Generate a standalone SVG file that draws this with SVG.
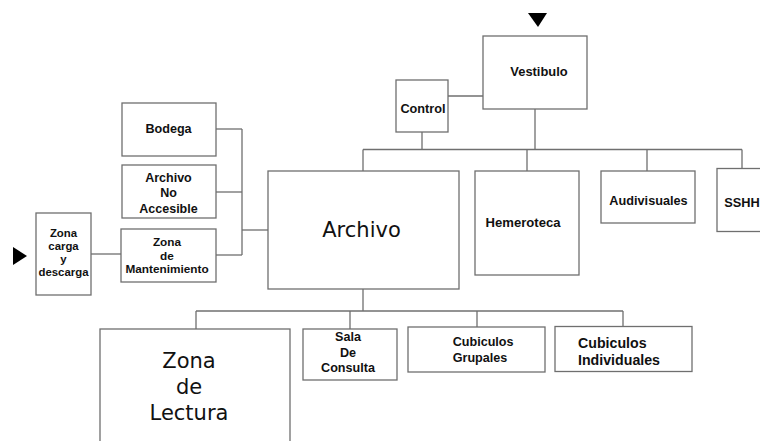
<svg xmlns="http://www.w3.org/2000/svg" width="760" height="441" viewBox="0 0 760 441">
<style>
.box{fill:#fff;stroke:#6f6f6f;stroke-width:1.3}
.ln{fill:none;stroke:#6f6f6f;stroke-width:1.3}
.t{font-family:"Liberation Sans",Arial,sans-serif;font-weight:bold;fill:#111;text-anchor:middle}
.big{font-family:"DejaVu Sans",Verdana,sans-serif;font-size:21px;fill:#111;text-anchor:middle}
.arr{fill:#000}
</style>
<rect width="760" height="441" fill="#fff"/>
<g id="connectors">
<polyline class="ln" points="216,129 242,129"/>
<polyline class="ln" points="216,192 242,192"/>
<polyline class="ln" points="216,255 242,255"/>
<polyline class="ln" points="242,129 242,255"/>
<polyline class="ln" points="242,230 268,230"/>
<polyline class="ln" points="91,254 121,254"/>
<polyline class="ln" points="363,149.5 742,149.5"/>
<polyline class="ln" points="363,149.5 363,171"/>
<polyline class="ln" points="422,132 422,149.5"/>
<polyline class="ln" points="535,109 535,149.5"/>
<polyline class="ln" points="527,149.5 527,171"/>
<polyline class="ln" points="647,149.5 647,171"/>
<polyline class="ln" points="742,149.5 742,169"/>
<polyline class="ln" points="448,96 483,96"/>
<polyline class="ln" points="363,289 363,311"/>
<polyline class="ln" points="196,311 623,311"/>
<polyline class="ln" points="196,311 196,329"/>
<polyline class="ln" points="350,311 350,329"/>
<polyline class="ln" points="477,311 477,327"/>
<polyline class="ln" points="623,311 623,327"/>
<polygon class="arr" points="528,13 547,13 538,27"/>
<polygon class="arr" points="13,247 13,265 27,256"/>
</g>
<g id="vestibulo">
<rect class="box" x="483" y="36" width="104" height="73"/>
<text class="t" x="539" y="76" font-size="12.9">Vestibulo</text>
</g>
<g id="control">
<rect class="box" x="396" y="80" width="52" height="52"/>
<text class="t" x="423" y="112.5" font-size="12.7">Control</text>
</g>
<g id="bodega">
<rect class="box" x="122" y="103" width="94" height="53"/>
<text class="t" x="168.5" y="132.5" font-size="12.6">Bodega</text>
</g>
<g id="archivo-no-accesible">
<rect class="box" x="122" y="165" width="94" height="53"/>
<text class="t" x="168.5" y="182" font-size="12.5">Archivo</text>
<text class="t" x="168.5" y="197.3" font-size="12.5">No</text>
<text class="t" x="168.5" y="212.6" font-size="12.5">Accesible</text>
</g>
<g id="zona-mantenimiento">
<rect class="box" x="121" y="229" width="95" height="53"/>
<text class="t" x="167" y="246" font-size="11.8">Zona</text>
<text class="t" x="167" y="259.7" font-size="11.8">de</text>
<text class="t" x="167" y="273.3" font-size="11.8">Mantenimiento</text>
</g>
<g id="zona-carga">
<rect class="box" x="36" y="213" width="55" height="82"/>
<text class="t" x="63.5" y="236.5" font-size="11.4">Zona</text>
<text class="t" x="63.5" y="249.6" font-size="11.4">carga</text>
<text class="t" x="63.5" y="262.7" font-size="11.4">y</text>
<text class="t" x="63.5" y="275.8" font-size="11.4">descarga</text>
</g>
<g id="archivo">
<rect class="box" x="268" y="171" width="191" height="118"/>
<text class="big" x="361.5" y="236.7">Archivo</text>
</g>
<g id="hemeroteca">
<rect class="box" x="475" y="171" width="104" height="104"/>
<text class="t" x="523" y="227.3" font-size="13.1">Hemeroteca</text>
</g>
<g id="audivisuales">
<rect class="box" x="601" y="171" width="94" height="52"/>
<text class="t" x="648.5" y="204.7" font-size="12.7">Audivisuales</text>
</g>
<g id="sshh">
<rect class="box" x="717" y="168.5" width="60" height="63"/>
<text class="t" x="724.3" y="206.7" font-size="12.8" style="text-anchor:start">SSHH</text>
</g>
<g id="zona-lectura">
<rect class="box" x="100" y="329" width="190" height="130"/>
<text class="big" x="189" y="368.3">Zona</text>
<text class="big" x="189" y="394.3">de</text>
<text class="big" x="189" y="420.3">Lectura</text>
</g>
<g id="sala-consulta">
<rect class="box" x="303" y="329" width="94" height="51"/>
<text class="t" x="348" y="341.3" font-size="12.6">Sala</text>
<text class="t" x="348" y="356.8" font-size="12.6">De</text>
<text class="t" x="348" y="372.3" font-size="12.6">Consulta</text>
</g>
<g id="cubiculos-grupales">
<rect class="box" x="408" y="327" width="137" height="45"/>
<text class="t" x="452.7" y="346" font-size="12.6" style="text-anchor:start">Cubiculos</text>
<text class="t" x="452.7" y="361.5" font-size="12.6" style="text-anchor:start">Grupales</text>
</g>
<g id="cubiculos-individuales">
<rect class="box" x="555" y="326.5" width="137" height="45"/>
<text class="t" x="578" y="347.7" font-size="14.2" style="text-anchor:start">Cubiculos</text>
<text class="t" x="578" y="365.3" font-size="14.2" style="text-anchor:start">Individuales</text>
</g>
</svg>
